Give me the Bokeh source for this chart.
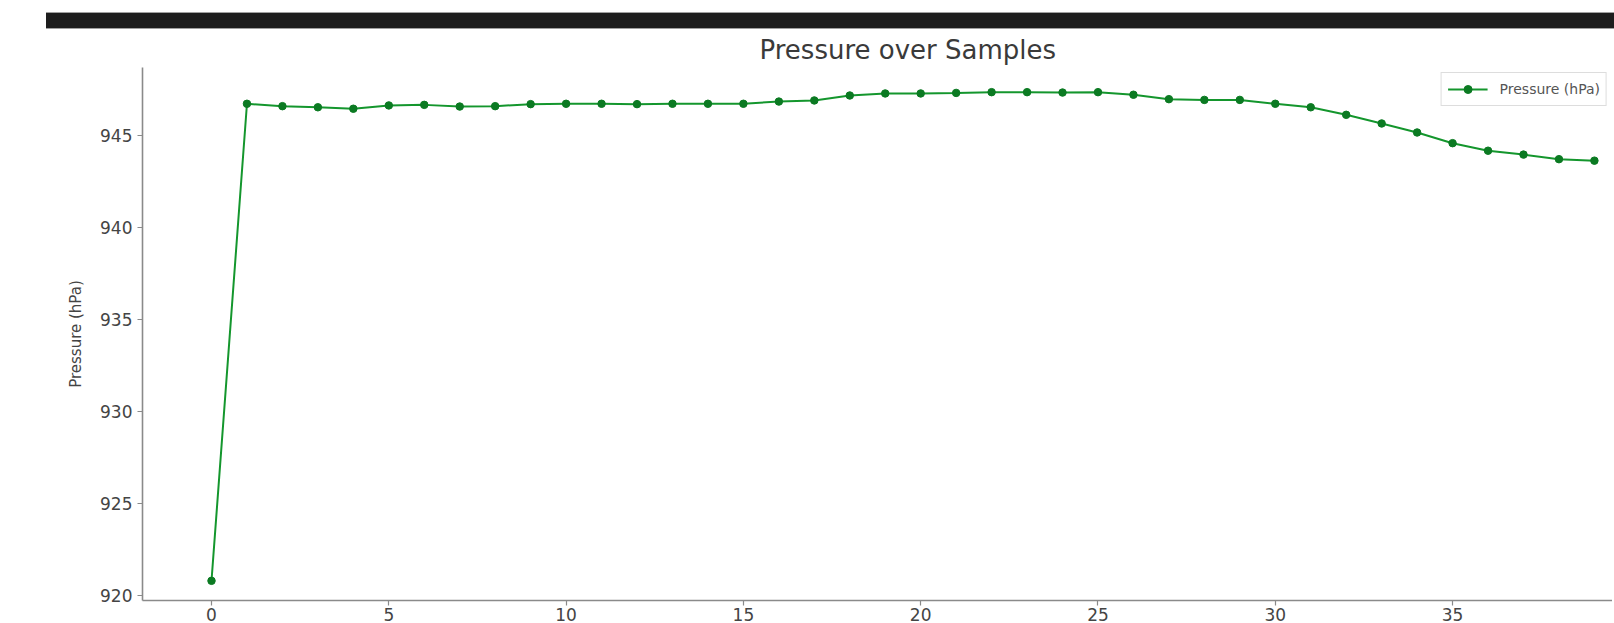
from bokeh.plotting import figure
from bokeh.models import Range1d, FixedTicker, Div
from bokeh.layouts import column
from bokeh.embed import file_html
from bokeh.resources import INLINE

# ---- data ----
samples = [0, 1, 2, 3, 4, 5, 6, 7, 8, 9, 10, 11, 12, 13, 14, 15, 16, 17, 18, 19,
           20, 21, 22, 23, 24, 25, 26, 27, 28, 29, 30, 31, 32, 33, 34, 35, 36, 37, 38, 39]
pressure_hpa = [920.80, 946.71, 946.58, 946.52, 946.44, 946.62, 946.65, 946.56, 946.58, 946.69,
                946.71, 946.71, 946.69, 946.71, 946.71, 946.71, 946.83, 946.89, 947.16, 947.27,
                947.27, 947.30, 947.34, 947.34, 947.32, 947.34, 947.20, 946.96, 946.92, 946.92,
                946.71, 946.52, 946.11, 945.64, 945.15, 944.57, 944.16, 943.95, 943.70, 943.62]
x_ticks = [0, 5, 10, 15, 20, 25, 30, 35, 40]
y_ticks = [920, 925, 930, 935, 940, 945]
title_text = "Pressure over Samples"
y_label = "Pressure (hPa)"
series_label = "Pressure (hPa)"

FONT = "DejaVu Sans"
LINE_COLOR = "#14962d"
MARKER_COLOR = "#0b7a22"
AXIS_COLOR = "#8a8a8a"
TEXT_COLOR = "#444444"

bar = Div(text="", width=1568, height=17, margin=(12, 0, 0, 46),
          styles={"background-color": "#1d1d1d",
                  "border-top": "1px solid #a0a0a0",
                  "border-bottom": "1px solid #a0a0a0",
                  "box-sizing": "border-box"})

p = figure(width=1612, height=594, output_backend="svg", toolbar_location=None,
           x_range=Range1d(-1.946, 39.51), y_range=Range1d(919.73, 948.68),
           min_border_left=142, min_border_right=0, min_border_top=38, min_border_bottom=0,
           margin=(0, 0, 0, 0))

p.title.text = title_text
p.title.text_font = FONT
p.title.text_font_size = "26px"
p.title.text_font_style = "normal"
p.title.text_color = "#3a3a3a"
p.title.align = "left"
p.title.offset = 617
p.title.standoff = 6

p.outline_line_color = None
p.background_fill_color = "white"
p.border_fill_color = "white"
p.xgrid.grid_line_color = None
p.ygrid.grid_line_color = None

for ax in (p.xaxis[0], p.yaxis[0]):
    ax.axis_line_color = AXIS_COLOR
    ax.axis_line_width = 1.6
    ax.major_tick_line_color = AXIS_COLOR
    ax.major_tick_line_width = 1.2
    ax.major_tick_out = 5
    ax.major_tick_in = 0
    ax.minor_tick_line_color = None
    ax.major_label_text_font = FONT
    ax.major_label_text_color = TEXT_COLOR
    ax.major_label_text_font_size = "17px"

p.xaxis.ticker = FixedTicker(ticks=x_ticks)
p.yaxis.ticker = FixedTicker(ticks=y_ticks)
p.xaxis.major_label_standoff = 2
p.yaxis.major_label_standoff = 5

p.yaxis.axis_label = y_label
p.yaxis.axis_label_text_font = FONT
p.yaxis.axis_label_text_font_style = "normal"
p.yaxis.axis_label_text_font_size = "15px"
p.yaxis.axis_label_text_color = TEXT_COLOR
p.yaxis.axis_label_standoff = 12

p.line(samples, pressure_hpa, line_color=LINE_COLOR, line_width=2, legend_label=series_label)
p.scatter(samples, pressure_hpa, size=7.5, fill_color=MARKER_COLOR, line_color=MARKER_COLOR,
          legend_label=series_label)

p.legend.location = "top_right"
p.legend.label_text_font = FONT
p.legend.label_text_font_size = "14px"
p.legend.label_text_color = "#555555"
p.legend.border_line_color = "#dddddd"
p.legend.border_line_alpha = 1
p.legend.background_fill_alpha = 0.9
p.legend.glyph_width = 40
p.legend.label_standoff = 12
p.legend.padding = 6
p.legend.margin = 5

layout = column(bar, p, spacing=0)

open("out.html", "w").write(file_html(layout, INLINE))
